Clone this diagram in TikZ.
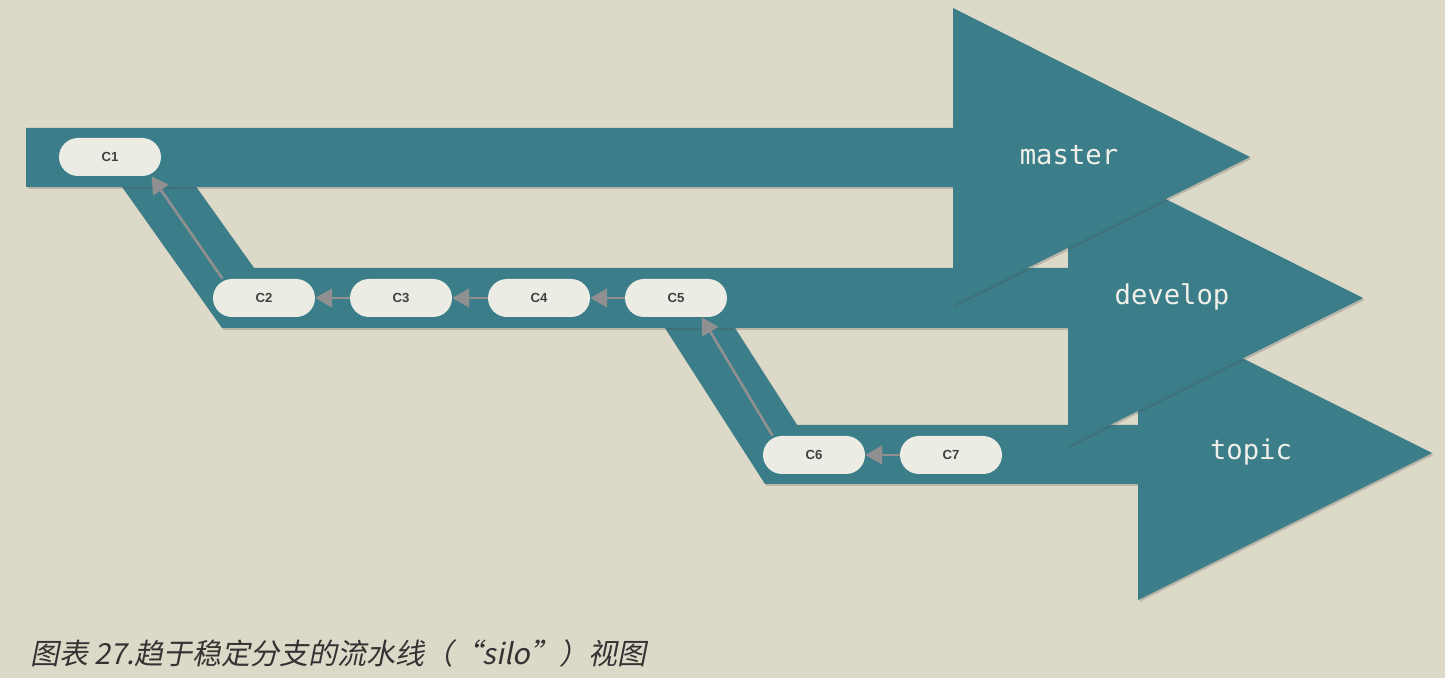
\documentclass[tikz,border=0pt]{standalone}
\usepackage{fontspec}
\setmonofont{DejaVu Sans Mono}
\setsansfont{Liberation Sans}
\newfontfamily\cjkfont[FakeSlant=0.2]{Noto Sans CJK SC}
\usetikzlibrary{arrows.meta,shadows}
\definecolor{paper}{HTML}{DDD9C8}
\definecolor{branchteal}{HTML}{3B7E8A}
\definecolor{pill}{HTML}{ECECE4}
\definecolor{parentgrey}{HTML}{909090}
\definecolor{labelwhite}{HTML}{F0F0E8}

\begin{document}
\begin{tikzpicture}[x=0.02cm,y=-0.02cm,
  band/.style={fill=branchteal,draw=none,drop shadow={shadow xshift=0.9pt,shadow yshift=-1.1pt,opacity=0.25,fill=black!70}},
  commit/.style={fill=pill,rounded corners=0.38cm,minimum width=2.04cm,minimum height=0.76cm,inner sep=0pt,
    font=\sffamily\bfseries\fontsize{7.5}{9}\selectfont,text=black!75},
  parent/.style={draw=parentgrey,line width=1.5pt,-{Triangle[length=9.5pt,width=10.5pt]}},
  branchlabel/.style={font=\ttfamily\fontsize{15.5}{18}\selectfont,text=labelwhite}]
% paper
\fill[paper] (0,0) rectangle (1445,678);
% topic branch
\fill[band] (647,300) -- (765,484) -- (1138,484) -- (1138,600) -- (1432,453) -- (1138,306)
  -- (1138,425) -- (797,425) -- (717,300) -- cycle;
% develop branch
\fill[band] (103,160) -- (222,328) -- (1068,328) -- (1068,446) -- (1363,298) -- (1068,150)
  -- (1068,268) -- (254,268) -- (177,160) -- cycle;
% master branch
\fill[band] (26,128) -- (26,187) -- (953,187) -- (953,305) -- (1250,157) -- (953,8)
  -- (953,128) -- cycle;
% branch names
\node[branchlabel] (master) at (1069,155) {master};
\node[branchlabel] (develop) at (1172,297) {develop};
\node[branchlabel] (topic) at (1251,452) {topic};
% commits
\node[commit] (c1) at (110,157) {C1};
\node[commit] (c2) at (264,298) {C2};
\node[commit] (c3) at (401,298) {C3};
\node[commit] (c4) at (539,298) {C4};
\node[commit] (c5) at (676,298) {C5};
\node[commit] (c6) at (814,455) {C6};
\node[commit] (c7) at (951,455) {C7};
% parents
\draw[parent] (c2.155) -- (c1.-25);
\draw[parent] (c3) -- (c2);
\draw[parent] (c4) -- (c3);
\draw[parent] (c5) -- (c4);
\draw[parent] (c6.155) -- (c5.-37);
\draw[parent] (c7) -- (c6);
% caption
\node[anchor=base west,font=\cjkfont\fontsize{16.5}{20}\selectfont,text=black!80] (caption) at (24,665)
  {图表 27.趋于稳定分支的流水线（“silo”）视图};
\end{tikzpicture}
\end{document}
